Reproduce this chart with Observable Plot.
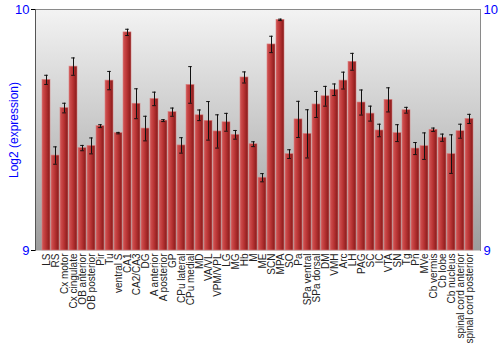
<!DOCTYPE html>
<html>
<head>
<meta charset="utf-8">
<script src="https://cdn.jsdelivr.net/npm/d3@7"></script>
<script src="https://cdn.jsdelivr.net/npm/@observablehq/plot@0.6"></script>
<style>
  html, body { margin: 0; padding: 0; background: #fff; }
  svg { font-family: "Liberation Sans", Arial, sans-serif; }
</style>
</head>
<body>
<div id="chart"></div>
<script>
const regions = ["LS","RS","Cx motor","Cx cingulate","OB anterior","OB posterior","Pir","Tu","ventral S","CA1","CA2/CA3","DG","A anterior","A posterior","GP","CPu lateral","CPu medial","MD","VA/VL","VPM/VPL","LG","MG","Hb","M","ME","SCN","MPA","SO","Pa","SPa ventral","SPa dorsal","DM","VMH","Arc","LH","PAG","SC","IC","VTA","SN","Tg","Pn","MVe","Cb vermis","Cb lobe","Cb nucleus","spinal cord anterior","spinal cord posterior"];
const expression = [9.708,9.394,9.591,9.763,9.425,9.434,9.516,9.705,9.487,9.905,9.609,9.506,9.629,9.539,9.574,9.436,9.687,9.561,9.538,9.494,9.532,9.480,9.718,9.441,9.302,9.855,9.957,9.400,9.544,9.484,9.606,9.640,9.667,9.705,9.783,9.614,9.568,9.498,9.625,9.487,9.582,9.423,9.433,9.501,9.468,9.400,9.495,9.546];
const errors = [0.019,0.036,0.020,0.036,0.011,0.033,0.006,0.038,0.003,0.013,0.062,0.051,0.028,0.004,0.017,0.032,0.076,0.022,0.080,0.069,0.037,0.018,0.023,0.010,0.017,0.034,0.003,0.018,0.075,0.100,0.054,0.041,0.024,0.035,0.035,0.052,0.031,0.026,0.050,0.035,0.012,0.025,0.055,0.007,0.015,0.080,0.029,0.019];
const yTicks = [9, 10];

const data = regions.map((r, i) => ({region: r, value: expression[i], lo: expression[i] - errors[i], hi: expression[i] + errors[i]}));

const plot = Plot.plot({
  width: 500,
  height: 350,
  marginLeft: 35,
  marginRight: 20,
  marginTop: 9,
  marginBottom: 100,
  style: {fontFamily: "'Liberation Sans', Arial, sans-serif", background: "#fff"},
  x: {domain: regions, padding: 0.14, label: null},
  y: {domain: [9, 10], label: null},
  marks: [
    Plot.frame({fill: "url(#bgGrad)", stroke: "none"}),
    Plot.barY(data, {x: "region", y1: 9, y2: "value", fill: "url(#barGrad)", stroke: "#d98080", strokeWidth: 0.6}),
    Plot.ruleX(data, {x: "region", y1: "lo", y2: "hi", stroke: "#111", strokeWidth: 1}),
    Plot.tickY(data, {x: "region", y: "lo", stroke: "#111", strokeWidth: 1, insetLeft: 2.2, insetRight: 2.2}),
    Plot.tickY(data, {x: "region", y: "hi", stroke: "#111", strokeWidth: 1, insetLeft: 2.2, insetRight: 2.2}),
    Plot.frame({anchor: "top", stroke: "#8a8a8a"}),
    Plot.frame({anchor: "right", stroke: "#8a8a8a"}),
    Plot.frame({anchor: "left", stroke: "#555"}),
    Plot.axisX({tickRotate: -90, tickSize: 0, tickPadding: 3, fontSize: 10, fill: "#222", label: null}),
    Plot.axisY(yTicks, {anchor: "left", tickSize: 4, tickPadding: 2, tickFormat: "d", fontSize: 13, fill: "#0000ff", stroke: "#000", label: "Log2 (expression)", labelAnchor: "center", labelArrow: false, labelOffset: 26}),
    Plot.axisY(yTicks, {anchor: "right", tickSize: 0, tickPadding: 3, tickFormat: "d", fontSize: 13, fill: "#0000ff", label: null})
  ]
});

const svg = d3.select(plot);
const defs = svg.insert("defs", ":first-child");
const bg = defs.append("linearGradient").attr("id", "bgGrad").attr("x1", 0).attr("y1", 0).attr("x2", 0).attr("y2", 1);
bg.append("stop").attr("offset", "0%").attr("stop-color", "#f3f3f3");
bg.append("stop").attr("offset", "100%").attr("stop-color", "#9c9c9c");
const bar = defs.append("linearGradient").attr("id", "barGrad").attr("x1", 0).attr("y1", 0).attr("x2", 1).attr("y2", 0);
bar.append("stop").attr("offset", "0%").attr("stop-color", "#d25656");
bar.append("stop").attr("offset", "45%").attr("stop-color", "#bb3636");
bar.append("stop").attr("offset", "100%").attr("stop-color", "#861818");

svg.selectAll("[aria-label='y-axis label'] text, g[aria-label='y-axis label']").attr("fill", "#0000ff").attr("font-size", 12);

document.getElementById("chart").appendChild(plot);
</script>
</body>
</html>
